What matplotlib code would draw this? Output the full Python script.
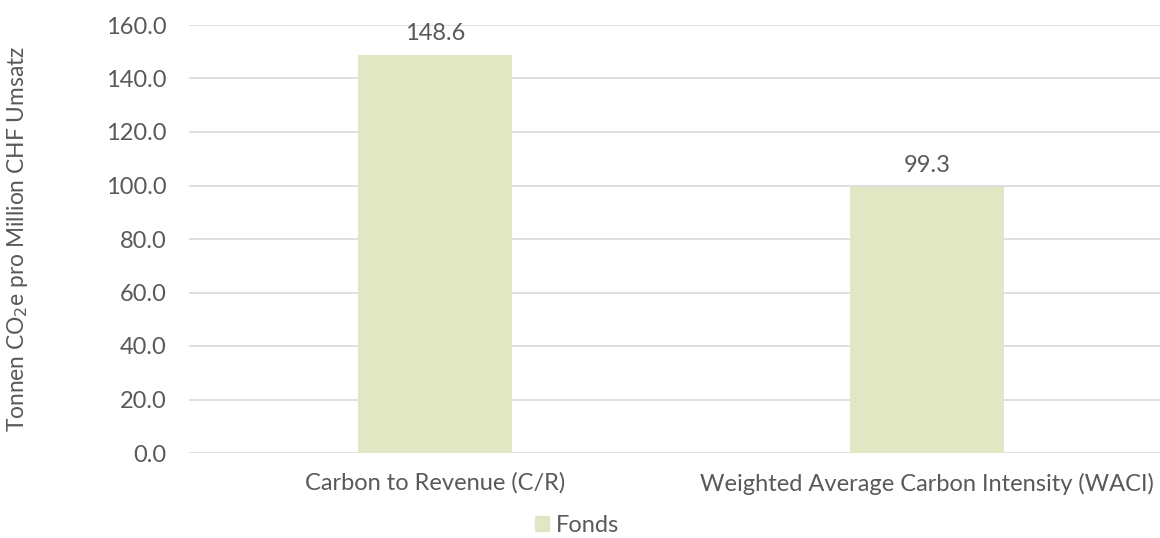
import matplotlib.pyplot as plt
from matplotlib.patches import Patch

categories = ['Carbon to Revenue (C/R)', 'Weighted Average Carbon Intensity (WACI)']
fonds = [148.6, 99.3]
yticks = [0, 20, 40, 60, 80, 100, 120, 140, 160]

text_col = '#595959'
bar_col = '#E1E6C3'
fs = 17
plt.rcParams['font.family'] = ['Lato', 'DejaVu Sans']

fig = plt.figure(figsize=(11.6, 5.38), dpi=100)
ax = fig.add_axes([189 / 1160, 1 - 453 / 538, 1 - 189 / 1160, (453 - 25) / 538])

x = range(len(categories))
bars = ax.bar(x, fonds, width=0.313, color=bar_col, zorder=2)
for b, v in zip(bars, fonds):
    ax.annotate(f'{v:.1f}', (b.get_x() + b.get_width() / 2, v), xytext=(0, 8),
                textcoords='offset points', ha='center', va='bottom',
                fontsize=fs, color=text_col)

ax.set_xlim(-0.5, 1.5 - 13 / 492)
ax.set_ylim(0, 160)
ax.set_yticks(yticks)
ax.set_yticklabels([f'{t:.1f}' for t in yticks])
ax.set_xticks(list(x))
ax.set_xticklabels(categories)
ax.tick_params(axis='both', length=0, labelsize=fs, labelcolor=text_col)
ax.tick_params(axis='y', pad=16)
ax.tick_params(axis='x', pad=14)
ax.grid(axis='y', color='#D9D9D9', linewidth=1.2, zorder=0)
for s in ax.spines.values():
    s.set_visible(False)

fig.text(18 / 1160, 1 - 239 / 538, 'Tonnen CO$_2$e pro Million CHF Umsatz',
         rotation=90, ha='center', va='center', fontsize=16.4, color=text_col)

fig.legend(handles=[Patch(color=bar_col, label='Fonds')], loc='center',
           bbox_to_anchor=(577 / 1160, 1 - 525 / 538), frameon=False,
           fontsize=fs, labelcolor=text_col, handlelength=0.6, handleheight=0.6,
           handletextpad=0.3, borderpad=0.2)

fig.savefig('out.png', dpi=100)
